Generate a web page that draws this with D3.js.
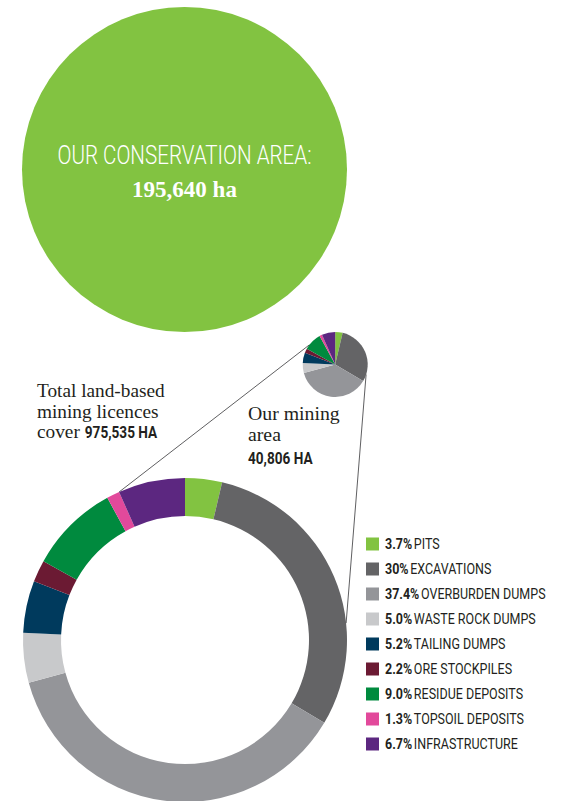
<!DOCTYPE html>
<html>
<head>
<meta charset="utf-8">
<script src="https://cdn.jsdelivr.net/npm/d3@7"></script>
<style>
  html, body { margin: 0; padding: 0; background: #fff; }
  svg { display: block; }
</style>
</head>
<body>
<svg id="chart" width="562" height="801"></svg>
<script>
// Land use breakdown of the mining area (share of total, %)
const categories = ["PITS", "EXCAVATIONS", "OVERBURDEN DUMPS", "WASTE ROCK DUMPS",
  "TAILING DUMPS", "ORE STOCKPILES", "RESIDUE DEPOSITS", "TOPSOIL DEPOSITS", "INFRASTRUCTURE"];
const shares = [3.7, 30, 37.4, 5.0, 5.2, 2.2, 9.0, 1.3, 6.7];
const shareLabels = ["3.7%", "30%", "37.4%", "5.0%", "5.2%", "2.2%", "9.0%", "1.3%", "6.7%"];

// Headline figures
const conservationTitle = "OUR CONSERVATION AREA:";
const conservationArea = "195,640 ha";
const licenceLines = ["Total land-based", "mining licences", "cover"];
const licenceArea = "975,535 HA";
const miningLines = ["Our mining", "area"];
const miningArea = "40,806 HA";

const palette = ["#82c341", "#646466", "#949599", "#c8c9cb", "#003a5d",
  "#6b1a33", "#008a3e", "#e2499b", "#5c2780"];

const svg = d3.select("#chart");
const color = d3.scaleOrdinal().domain(categories).range(palette);
const serif = "'Liberation Serif', 'Times New Roman', serif";
const sans = "Roboto, 'Liberation Sans', sans-serif";
const ink = "#231f20";

// ---- Conservation area disc ----
const disc = svg.append("g").attr("transform", "translate(184.5,169.5)");
disc.append("circle").attr("r", 162.5).attr("fill", palette[0]);
disc.append("text")
  .attr("x", 0).attr("y", -6)
  .attr("text-anchor", "middle")
  .attr("font-family", sans).attr("font-weight", 300)
  .attr("font-size", 26).attr("fill", "#fff")
  .attr("textLength", 254).attr("lengthAdjust", "spacingAndGlyphs")
  .text(conservationTitle);
disc.append("text")
  .attr("x", 0).attr("y", 27)
  .attr("text-anchor", "middle")
  .attr("font-family", serif).attr("font-weight", 700)
  .attr("font-size", 23).attr("fill", "#fff")
  .text(conservationArea);

// ---- Pie layout shared by both charts ----
const pie = d3.pie().sort(null).value(d => d.value);
const arcsData = pie(categories.map((c, i) => ({ name: c, value: shares[i] })));

// Small pie (our mining area) and donut (all licences)
const small = { x: 335.2, y: 364.5, r: 32.5 };
const big = { x: 185, y: 640, r: 162, inner: 124 };

// Connector lines between the small pie and the donut
const polar = (c, r, deg) => {
  const a = deg * Math.PI / 180;
  return [c.x + r * Math.sin(a), c.y - r * Math.cos(a)];
};
const connectors = [
  [polar(small, small.r, -53), polar(big, big.r, -24)],
  [polar(small, small.r, 108), polar(big, big.r, 84)]
];
svg.append("g").selectAll("line").data(connectors).join("line")
  .attr("x1", d => d[0][0]).attr("y1", d => d[0][1])
  .attr("x2", d => d[1][0]).attr("y2", d => d[1][1])
  .attr("stroke", "#4d4d4f").attr("stroke-width", 0.9);

const smallArc = d3.arc().innerRadius(0).outerRadius(small.r);
svg.append("g").attr("transform", `translate(${small.x},${small.y})`)
  .selectAll("path").data(arcsData).join("path")
  .attr("d", smallArc)
  .attr("fill", d => color(d.data.name));

const bigArc = d3.arc().innerRadius(big.inner).outerRadius(big.r);
svg.append("g").attr("transform", `translate(${big.x},${big.y})`)
  .selectAll("path").data(arcsData).join("path")
  .attr("d", bigArc)
  .attr("fill", d => color(d.data.name));

// ---- Annotations ----
const lineStep = 20.5;
const licence = svg.append("g").attr("transform", "translate(37,397)");
licenceLines.forEach((line, i) => {
  licence.append("text")
    .attr("x", 0).attr("y", i * lineStep)
    .attr("font-family", serif).attr("font-size", 19.3).attr("fill", ink)
    .text(line);
});
const coverWidth = licence.select("text:last-child").node().getComputedTextLength();
licence.append("text")
  .attr("transform", `translate(${coverWidth + 5},${2 * lineStep}) scale(0.8,1)`)
  .attr("font-family", sans).attr("font-weight", 700)
  .attr("font-size", 17).attr("fill", ink)
  .text(licenceArea);

const mining = svg.append("g").attr("transform", "translate(248,420)");
miningLines.forEach((line, i) => {
  mining.append("text")
    .attr("x", 0).attr("y", i * lineStep)
    .attr("font-family", serif).attr("font-size", 19.8).attr("fill", ink)
    .text(line);
});
mining.append("text")
  .attr("transform", `translate(0,44) scale(0.8,1)`)
  .attr("font-family", sans).attr("font-weight", 700)
  .attr("font-size", 17).attr("fill", ink)
  .text(miningArea);

// ---- Legend ----
const legendY = d3.scalePoint().domain(categories).range([544, 744]);
const legend = svg.append("g").selectAll("g").data(categories).join("g")
  .attr("transform", d => `translate(366,${legendY(d)})`);
legend.append("rect")
  .attr("x", 0).attr("y", -6.5).attr("width", 13).attr("height", 13)
  .attr("fill", d => color(d));
const label = legend.append("text")
  .attr("font-family", sans).attr("font-size", 15).attr("fill", ink);
label.append("tspan").attr("font-weight", 700)
  .text((d, i) => shareLabels[i]);
label.append("tspan").attr("font-weight", 400).attr("dx", 2)
  .text(d => d);

// Condense the legend type so the widest entry spans 159px
const widest = d3.max(label.nodes(), n => n.getComputedTextLength());
const squeeze = 159 / widest;
label.attr("transform", `translate(19,5.4) scale(${squeeze},1)`);
</script>
</body>
</html>
